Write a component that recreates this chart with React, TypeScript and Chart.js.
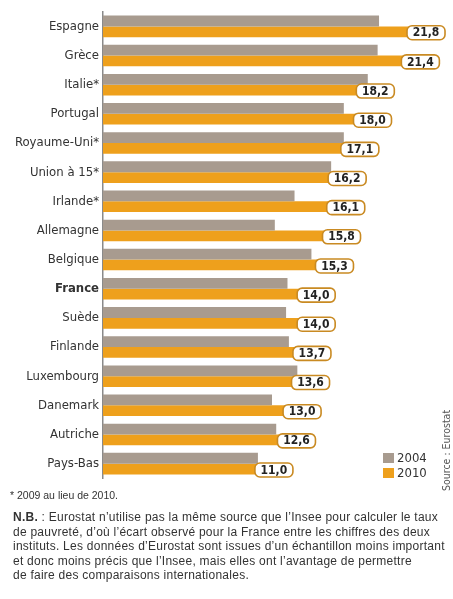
import React, { useEffect, useRef } from "react";
import { Chart, registerables } from "chart.js";

Chart.register(...registerables);

const categories = [
  "Espagne", "Grèce", "Italie*", "Portugal", "Royaume-Uni*", "Union à 15*", "Irlande*",
  "Allemagne", "Belgique", "France", "Suède", "Finlande", "Luxembourg", "Danemark",
  "Autriche", "Pays-Bas",
];
const values2004 = [19.6, 19.5, 18.8, 17.1, 17.1, 16.2, 13.6, 12.2, 14.8, 13.1, 13.0, 13.2, 13.8, 12.0, 12.3, 11.0];
const values2010 = [21.8, 21.4, 18.2, 18.0, 17.1, 16.2, 16.1, 15.8, 15.3, 14.0, 14.0, 13.7, 13.6, 13.0, 12.6, 11.0];
const seriesNames = ["2004", "2010"];
const boldCategory = "France";

const GRAY = "#a89b8f";
const ORANGE = "#eea01c";
const FONT = '"DejaVu Sans Condensed", "Liberation Sans", sans-serif';
const NOTE_FONT = '"Liberation Sans", Arial, sans-serif';

const fmt = (v: number) => v.toFixed(1).replace(".", ",");

const valueLabels = {
  id: "valueLabels",
  afterDatasetsDraw(chart: any) {
    const ctx = chart.ctx;
    const meta = chart.getDatasetMeta(1);
    ctx.save();
    meta.data.forEach((el: any, i: number) => {
      const x0 = el.x - 3;
      const w = 38;
      const h = 14;
      const y0 = el.y + 1 - h / 2;
      ctx.beginPath();
      ctx.roundRect(x0, y0, w, h, 5);
      ctx.fillStyle = "#ffffff";
      ctx.fill();
      ctx.lineWidth = 1.6;
      ctx.strokeStyle = "#c98a22";
      ctx.stroke();
      ctx.fillStyle = "#222";
      ctx.font = `bold 12px ${FONT}`;
      ctx.textAlign = "center";
      ctx.textBaseline = "middle";
      ctx.fillText(fmt(values2010[i]), x0 + w / 2, y0 + h / 2 + 0.5);
    });
    ctx.restore();
  },
};

export default function App() {
  const ref = useRef<HTMLCanvasElement>(null);
  useEffect(() => {
    document.body.style.margin = "0";
    const chart = new Chart(ref.current!, {
      type: "bar",
      data: {
        labels: categories,
        datasets: [
          { label: seriesNames[0], data: values2004, backgroundColor: GRAY, categoryPercentage: 0.74, barPercentage: 1 },
          { label: seriesNames[1], data: values2010, backgroundColor: ORANGE, categoryPercentage: 0.74, barPercentage: 1 },
        ],
      },
      options: {
        indexAxis: "y",
        animation: false,
        responsive: false,
        layout: { padding: { left: 0, right: 12, top: 10, bottom: 7 } },
        plugins: { legend: { display: false }, tooltip: { enabled: false } },
        scales: {
          x: { display: false, min: 0, max: 24 },
          y: {
            grid: { display: false, drawTicks: false },
            border: { display: true, color: "#8a8a8a", width: 1.5 },
            afterFit: (scale: any) => { scale.width = 103; },
            ticks: {
              padding: 4,
              color: "#333",
              font: (c: any) => ({
                family: FONT,
                size: 13,
                weight: categories[c.index] === boldCategory ? "bold" : "normal",
              }),
            },
          },
        },
      },
      plugins: [valueLabels],
    });
    return () => chart.destroy();
  }, []);

  const txt: React.CSSProperties = { fontFamily: FONT, color: "#333", position: "absolute" };
  const note: React.CSSProperties = { ...txt, fontFamily: NOTE_FONT, whiteSpace: "nowrap" };
  return (
    <div style={{ position: "relative", width: 453, height: 599, background: "#fff", overflow: "hidden" }}>
      <canvas ref={ref} width={453} height={490} style={{ position: "absolute", left: 0, top: 0 }} />
      <div style={{ ...txt, left: 383, top: 453, width: 11, height: 10, background: GRAY }} />
      <div style={{ ...txt, left: 397, top: 450, fontSize: 13, lineHeight: "15px" }}>{seriesNames[0]}</div>
      <div style={{ ...txt, left: 383, top: 468, width: 11, height: 10, background: ORANGE }} />
      <div style={{ ...txt, left: 397, top: 465, fontSize: 13, lineHeight: "15px" }}>{seriesNames[1]}</div>
      <div
        style={{
          ...txt,
          left: 440,
          top: 491,
          fontSize: 10.5,
          lineHeight: "12px",
          whiteSpace: "nowrap",
          transform: "rotate(-90deg)",
          transformOrigin: "left top",
          color: "#555",
        }}
      >
        Source : Eurostat
      </div>
      <div style={{ ...note, left: 10, top: 488, fontSize: 10.5, lineHeight: "14px" }}>* 2009 au lieu de 2010.</div>
      <div style={{ ...note, left: 13, top: 510, fontSize: 12, letterSpacing: "0.25px", lineHeight: "14.5px" }}>
        <b>N.B.</b> : Eurostat n’utilise pas la même source que l’Insee pour calculer le taux<br />
        de pauvreté, d’où l’écart observé pour la France entre les chiffres des deux<br />
        instituts. Les données d’Eurostat sont issues d’un échantillon moins important<br />
        et donc moins précis que l’Insee, mais elles ont l’avantage de permettre<br />
        de faire des comparaisons internationales.
      </div>
    </div>
  );
}
